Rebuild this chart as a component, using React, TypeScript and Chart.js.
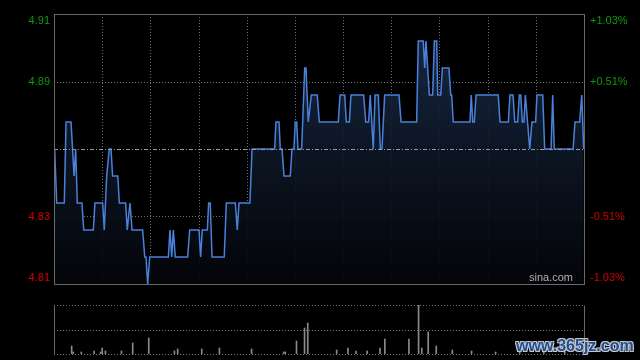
import React, { useEffect, useRef } from "react";
import { Chart, registerables } from "chart.js";

Chart.register(...registerables);

// ---- data ----
const PREV_CLOSE = 4.86;
const PRICE_MIN = 4.81;
const PRICE_MAX = 4.91;
const SESSION_MINUTES = 330; // 09:30-12:00, 13:00-16:00
const GRID_MINUTES = [0, 30, 60, 90, 120, 150, 180, 210, 240, 270, 300, 330];
const PRICE_TICKS = [4.91, 4.885, 4.86, 4.835, 4.81];
const LEFT_LABELS = ["4.91", "4.89", "", "4.83", "4.81"];
const RIGHT_LABELS = ["+1.03%", "+0.51%", "", "-0.51%", "-1.03%"];

// change points of the intraday price line (minute from open, price)
const TIMES = [
  0.4, 1.7, 6.4, 7.5, 10.6, 12.5, 13.5, 14.5, 17.4, 18.5, 24.5, 25.5, 30.3, 31.3, 32.8, 34.4,
  35.5, 36.5, 39.7, 40.7, 44.6, 45.6, 47.3, 48.6, 55.2, 56.5, 57.3, 58.3, 59.6, 71.2, 72.2, 73.3,
  74.3, 75.5, 83.2, 84.5, 90.3, 91.3, 92.3, 95.5, 96.3, 97.3, 98.4, 106.0, 107.3, 112.9, 114.1,
  115.2, 122.0, 123.3, 137.4, 138.2, 140.1, 140.9, 142.0, 143.2, 147.1, 148.2, 149.4, 150.2,
  151.1, 151.9, 154.2, 156.1, 156.9, 158.3, 160.2, 163.9, 165.2, 177.0, 178.1, 181.0, 182.0,
  183.9, 184.9, 192.8, 194.1, 195.9, 196.9, 198.8, 199.9, 201.9, 203.2, 204.2, 205.9, 214.8,
  216.1, 225.8, 226.8, 229.9, 230.8, 231.6, 233.7, 235.8, 236.8, 238.3, 238.9, 240.8, 241.8,
  245.9, 247.0, 247.6, 248.6, 259.0, 259.8, 260.7, 261.7, 262.8, 276.6, 277.7, 282.9, 283.9,
  285.8, 286.9, 288.7, 289.7, 290.6, 291.6, 292.6, 293.5, 296.2, 297.6, 299.9, 300.7, 304.3,
  305.5, 309.5, 310.5, 311.5, 323.2, 324.4, 327.3, 328.6, 329.8,
];
const PRICES = [
  4.86, 4.84, 4.84, 4.87, 4.87, 4.85, 4.86, 4.84, 4.84, 4.83, 4.83, 4.84, 4.84, 4.83, 4.85, 4.86,
  4.86, 4.85, 4.85, 4.84, 4.84, 4.83, 4.84, 4.83, 4.83, 4.82, 4.82, 4.81, 4.82, 4.82, 4.83, 4.82,
  4.83, 4.82, 4.82, 4.83, 4.83, 4.82, 4.83, 4.83, 4.84, 4.84, 4.82, 4.82, 4.84, 4.84, 4.83,
  4.84, 4.84, 4.86, 4.86, 4.87, 4.87, 4.86, 4.86, 4.85, 4.85, 4.86, 4.86, 4.87,
  4.87, 4.86, 4.86, 4.89, 4.89, 4.87, 4.88, 4.88, 4.87, 4.87, 4.88, 4.88, 4.87,
  4.87, 4.88, 4.88, 4.87, 4.87, 4.88, 4.86, 4.88, 4.88, 4.86, 4.86, 4.88, 4.88,
  4.87, 4.87, 4.90, 4.90, 4.89, 4.90, 4.88, 4.88, 4.90, 4.90, 4.88, 4.88, 4.89,
  4.89, 4.88, 4.88, 4.87, 4.87, 4.88, 4.87, 4.87, 4.88, 4.88, 4.87, 4.87, 4.88,
  4.88, 4.87, 4.87, 4.88, 4.88, 4.87, 4.87, 4.88, 4.86, 4.87, 4.87, 4.88, 4.88,
  4.86, 4.86, 4.88, 4.86, 4.86, 4.87, 4.87, 4.88, 4.86,
];

// per-minute volume bars (minute, volume in arbitrary lots)
const VOL_MINUTES = [
  11, 12, 17, 25, 29, 30, 32, 42, 49, 59, 75, 77, 92, 103, 123, 143, 144, 151, 156, 158, 176,
  183, 188, 195, 203, 206, 221, 227, 229, 233, 238, 248, 260, 275, 290, 305, 318,
];
const VOLUMES = [
  8, 2, 2, 3, 2, 6, 3, 3, 11, 16, 3, 5, 5, 6, 5, 2, 2, 13, 26, 31, 4,
  6, 3, 3, 6, 15, 15, 49, 6, 22, 8, 4, 3, 2, 3, 2, 3,
];
const VOL_MAX = 49;

const GREEN = "#0a9a0a";
const RED = "#d40000";
const FONT = '11px "Liberation Sans", Arial, sans-serif';

function dottedH(ctx: CanvasRenderingContext2D, x1: number, x2: number, y: number) {
  ctx.beginPath();
  ctx.moveTo(x1, y);
  ctx.lineTo(x2, y);
  ctx.stroke();
}

const mainDecor = {
  id: "mainDecor",
  beforeDatasetsDraw(chart: any) {
    const { ctx, chartArea: a, scales } = chart;
    const xs = scales.x;
    const ys = scales.y;
    ctx.save();
    ctx.lineWidth = 1;
    ctx.strokeStyle = "#707070";
    ctx.setLineDash([1, 2]);
    for (const m of GRID_MINUTES) {
      if (m === 0 || m === SESSION_MINUTES) continue;
      const px = Math.round(xs.getPixelForValue(m)) + 0.5;
      ctx.beginPath();
      ctx.moveTo(px, a.top);
      ctx.lineTo(px, a.bottom);
      ctx.stroke();
    }
    for (const p of PRICE_TICKS) {
      if (p === PRICE_MIN || p === PRICE_MAX || p === PREV_CLOSE) continue;
      const py = Math.round(ys.getPixelForValue(p)) + 0.5;
      dottedH(ctx, a.left, a.right, py);
    }
    ctx.restore();
  },
  afterDatasetsDraw(chart: any) {
    const { ctx, chartArea: a, scales } = chart;
    const ys = scales.y;
    ctx.save();
    // previous close reference line
    ctx.lineWidth = 1;
    ctx.strokeStyle = "#9a9a9a";
    ctx.setLineDash([4, 2, 1, 2]);
    const pc = Math.round(ys.getPixelForValue(PREV_CLOSE)) + 0.5;
    dottedH(ctx, a.left, a.right, pc);
    // border
    ctx.setLineDash([]);
    ctx.strokeStyle = "#6a6a6a";
    ctx.strokeRect(Math.round(a.left) + 0.5, Math.round(a.top) + 0.5, Math.round(a.right - a.left), Math.round(a.bottom - a.top));
    // labels
    ctx.font = FONT;
    PRICE_TICKS.forEach((p, i) => {
      const py = ys.getPixelForValue(p);
      let base: CanvasTextBaseline = "middle";
      let ty = py;
      if (i === 0) { base = "top"; ty = py + 1; }
      if (i === PRICE_TICKS.length - 1) { base = "bottom"; ty = py - 1; }
      ctx.textBaseline = base;
      ctx.fillStyle = p > PREV_CLOSE ? GREEN : RED;
      if (LEFT_LABELS[i]) {
        ctx.textAlign = "right";
        ctx.fillText(LEFT_LABELS[i], a.left - 4, ty);
      }
      if (RIGHT_LABELS[i]) {
        ctx.textAlign = "left";
        ctx.fillText(RIGHT_LABELS[i], a.right + 6, ty);
      }
    });
    // watermark
    ctx.fillStyle = "#b0b0b0";
    ctx.textAlign = "right";
    ctx.textBaseline = "bottom";
    ctx.font = '11px "Liberation Sans", Arial, sans-serif';
    ctx.fillText("sina.com", a.right - 11, a.bottom - 1);
    ctx.restore();
  },
};

const volDecor = {
  id: "volDecor",
  beforeDatasetsDraw(chart: any) {
    const { ctx, chartArea: a } = chart;
    ctx.save();
    ctx.lineWidth = 1;
    ctx.strokeStyle = "#707070";
    ctx.setLineDash([1, 2]);
    const top = Math.round(a.top) + 0.5;
    const bot = Math.round(a.bottom) + 0.5;
    const mid = Math.round((a.top + a.bottom) / 2) + 0.5;
    dottedH(ctx, a.left, a.right, top);
    dottedH(ctx, a.left, a.right, mid);
    dottedH(ctx, a.left, a.right, bot);
    ctx.setLineDash([]);
    ctx.strokeStyle = "#6a6a6a";
    const l = Math.round(a.left) + 0.5;
    const r = Math.round(a.right) + 0.5;
    ctx.beginPath();
    ctx.moveTo(l, top);
    ctx.lineTo(l, bot);
    ctx.moveTo(r, top);
    ctx.lineTo(r, bot);
    ctx.stroke();
    ctx.restore();
  },
};

export default function App() {
  const mainRef = useRef<HTMLCanvasElement | null>(null);
  const volRef = useRef<HTMLCanvasElement | null>(null);

  useEffect(() => {
    const points = TIMES.map((t, i) => ({ x: t, y: PRICES[i] }));
    const main = new Chart(mainRef.current as HTMLCanvasElement, {
      type: "line",
      data: {
        datasets: [
          {
            data: points,
            borderColor: "#4a80da",
            borderWidth: 1.5,
            pointRadius: 0,
            tension: 0,
            fill: "start",
            backgroundColor: (c: any) => {
              const ca = c.chart.chartArea;
              if (!ca) return "rgba(20,35,60,0.8)";
              const g = c.chart.ctx.createLinearGradient(0, ca.top, 0, ca.bottom);
              g.addColorStop(0, "rgba(26,44,74,0.95)");
              g.addColorStop(0.5, "rgba(14,24,40,0.9)");
              g.addColorStop(1, "rgba(3,5,9,0.9)");
              return g;
            },
          },
        ],
      },
      options: {
        responsive: false,
        animation: false,
        layout: { padding: { left: 54, right: 56, top: 14, bottom: 8 } },
        plugins: { legend: { display: false }, tooltip: { enabled: false } },
        scales: {
          x: { type: "linear", min: 0, max: SESSION_MINUTES, display: false },
          y: { type: "linear", min: PRICE_MIN, max: PRICE_MAX, display: false },
        },
      },
      plugins: [mainDecor],
    });

    const vol = new Chart(volRef.current as HTMLCanvasElement, {
      type: "bar",
      data: {
        datasets: [
          {
            data: VOL_MINUTES.map((m, i) => ({ x: m, y: VOLUMES[i] })),
            backgroundColor: "#8a8a8a",
            barThickness: 1,
          },
        ],
      },
      options: {
        responsive: false,
        animation: false,
        layout: { padding: { left: 54, right: 56, top: 9, bottom: 6 } },
        plugins: { legend: { display: false }, tooltip: { enabled: false } },
        scales: {
          x: { type: "linear", min: 0, max: SESSION_MINUTES, display: false, offset: false },
          y: { type: "linear", min: 0, max: VOL_MAX, display: false },
        },
      },
      plugins: [volDecor],
    });

    return () => {
      main.destroy();
      vol.destroy();
    };
  }, []);

  return (
    <div style={{ position: "fixed", left: 0, top: 0, width: 640, height: 360, background: "#000", overflow: "hidden" }}>
      <canvas ref={mainRef} width={640} height={292} style={{ position: "absolute", left: 0, top: 0 }} />
      <canvas ref={volRef} width={640} height={64} style={{ position: "absolute", left: 0, top: 296 }} />
      <div
        style={{
          position: "absolute",
          left: 516,
          top: 337,
          font: 'bold 16px "Liberation Sans", Arial, sans-serif',
          color: "#1e4f98",
          textShadow: "-1px -1px 0 #c8c8c8, 1px -1px 0 #c8c8c8, -1px 1px 0 #c8c8c8, 1px 1px 0 #c8c8c8",
          lineHeight: "18px",
          whiteSpace: "nowrap",
        }}
      >
        www.365jz.com
      </div>
    </div>
  );
}
